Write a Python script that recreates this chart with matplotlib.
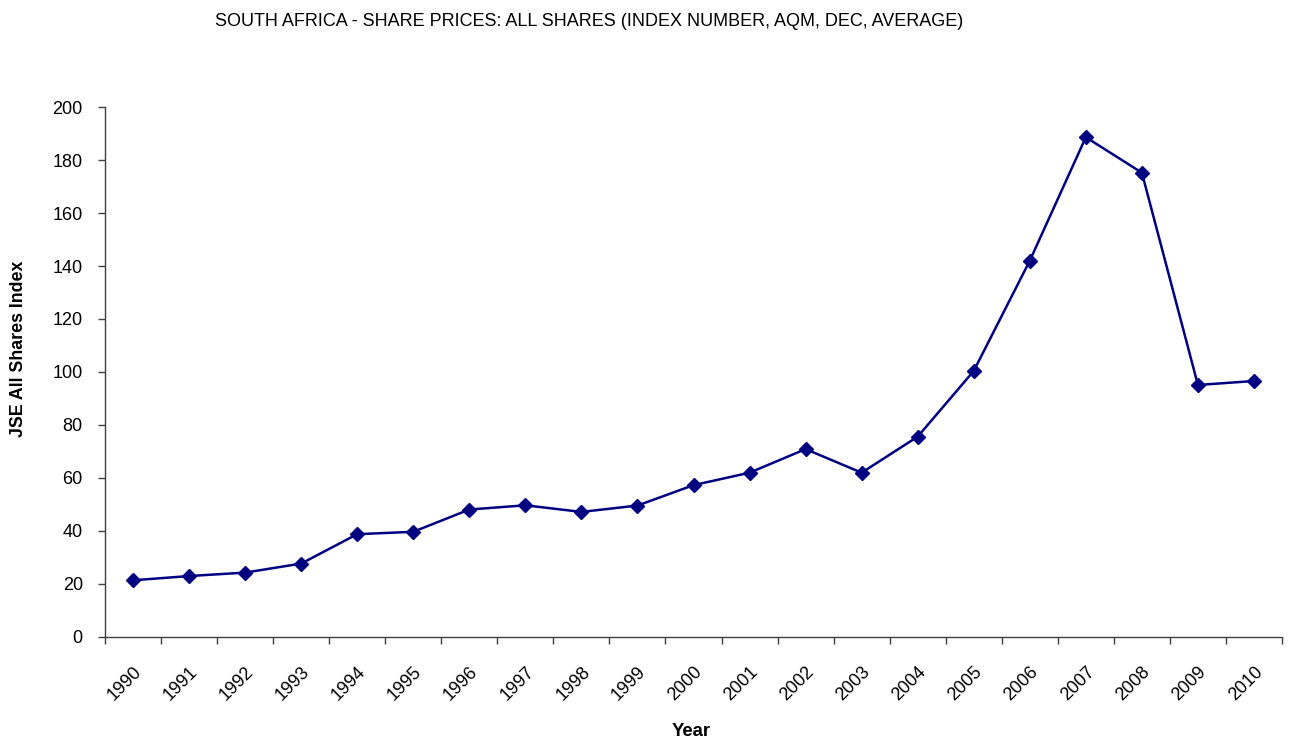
import numpy as np
import matplotlib
matplotlib.use('Agg')
import matplotlib.pyplot as plt

plt.rcParams['font.family'] = ['Liberation Sans', 'DejaVu Sans']

years = ['1990', '1991', '1992', '1993', '1994', '1995', '1996', '1997', '1998', '1999', '2000',
         '2001', '2002', '2003', '2004', '2005', '2006', '2007', '2008', '2009', '2010']
jse_index = [21.4, 23.0, 24.3, 27.7, 38.8, 39.7, 48.1, 49.7, 47.2, 49.6, 57.3,
             62.0, 70.9, 62.0, 75.6, 100.4, 142.0, 188.6, 175.2, 95.1, 96.6]

fig = plt.figure(figsize=(12.9, 7.4), dpi=100)
ax = fig.add_axes([0.0814, 0.1392, 0.9124, 0.7162])

x = np.arange(len(years))
ax.plot(x, jse_index, color='#000080', lw=1.8, marker='D', markersize=7.5)

ax.set_xlim(-0.5, len(years) - 0.5)
ax.set_ylim(0, 200)
ax.set_yticks(np.arange(0, 201, 20))
ax.set_xticks(x)
ax.set_xticklabels(years, rotation=45, ha='right', rotation_mode='anchor', fontsize=13)
ax.set_xticks(np.arange(-0.5, len(years)), minor=True)
ax.tick_params(axis='x', which='major', length=0, pad=19)
ax.tick_params(axis='x', which='minor', length=5, width=1, color='#404040', direction='out')
ax.tick_params(axis='y', length=5, width=1, color='#404040', labelsize=13, pad=11)

for s in ['top', 'right']:
    ax.spines[s].set_visible(False)
for s in ['left', 'bottom']:
    ax.spines[s].set_color('#404040')
    ax.spines[s].set_linewidth(1)

# axis titles sit where the original put them (y title is a bit above centre)
fig.text(0.0145, 1 - 349 / 740, 'JSE All Shares Index', rotation=90, ha='center', va='center',
         fontsize=12.8, fontweight='bold')
fig.text(0.5357, 1 - 732 / 740, 'Year', ha='center', va='center', fontsize=13.3, fontweight='bold')

fig.text(0.4566, 1 - 21 / 740, 'SOUTH AFRICA - SHARE PRICES: ALL SHARES (INDEX NUMBER, AQM, DEC, AVERAGE)',
         ha='center', va='center', fontsize=13)

fig.savefig('out.png', dpi=100)
